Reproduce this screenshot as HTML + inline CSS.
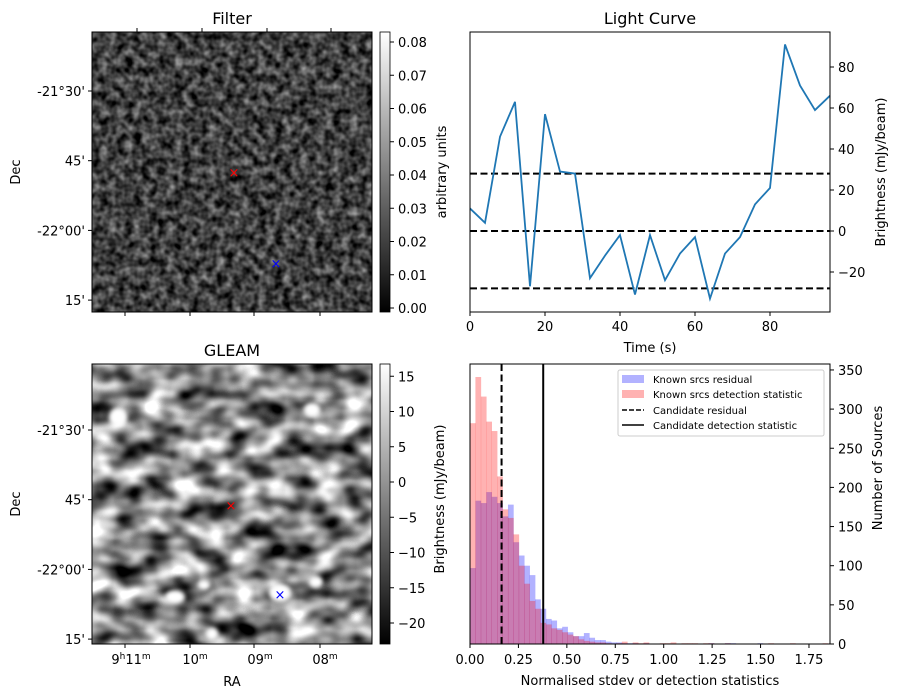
<!DOCTYPE html>
<html><head><meta charset="utf-8"><style>
body{margin:0;background:#fff;}
svg{display:block;font-family:"DejaVu Sans","Liberation Sans",sans-serif;}
</style></head><body>
<svg id="fig" width="898" height="699" viewBox="0 0 898 699" xmlns="http://www.w3.org/2000/svg">
<defs>
<filter id="fnoise" x="0" y="0" width="100%" height="100%" color-interpolation-filters="sRGB">
<feTurbulence type="fractalNoise" baseFrequency="0.12" numOctaves="2" seed="3"/>
<feColorMatrix type="matrix" values="0.9 0 0 0 -0.2  0.9 0 0 0 -0.2  0.9 0 0 0 -0.2  0 0 0 0 1"/>
</filter>
<filter id="gnoise" x="0" y="0" width="100%" height="100%" color-interpolation-filters="sRGB">
<feTurbulence type="fractalNoise" baseFrequency="0.035 0.05" numOctaves="2" seed="7"/>
<feColorMatrix type="matrix" values="1.9 0 0 0 -0.42  1.9 0 0 0 -0.42  1.9 0 0 0 -0.42  0 0 0 0 1"/>
</filter>
<filter id="blur"><feGaussianBlur stdDeviation="2"/></filter>
<linearGradient id="gray" x1="0" y1="1" x2="0" y2="0"><stop offset="0" stop-color="#000"/><stop offset="1" stop-color="#fff"/></linearGradient>
<clipPath id="gclip"><rect x="92" y="364" width="280" height="280"/></clipPath>
</defs>

<!-- Filter panel -->
<text x="232" y="24" font-size="16" text-anchor="middle">Filter</text>
<rect x="92" y="32" width="280" height="280" filter="url(#fnoise)"/>
<rect x="92" y="32" width="280" height="280" fill="none" stroke="#000" stroke-width="1"/>
<text x="234" y="177" font-size="13" fill="red" text-anchor="middle">×</text>
<text x="276" y="268" font-size="13" fill="blue" text-anchor="middle">×</text>
<rect x="380" y="32" width="10" height="280" fill="url(#gray)" stroke="#000" stroke-width="0.8"/>
<text transform="translate(446,172) rotate(-90)" font-size="13" text-anchor="middle">arbitrary units</text>
<text transform="translate(20,172) rotate(-90)" font-size="13" text-anchor="middle">Dec</text>

<!-- GLEAM panel -->
<text x="232" y="356" font-size="16" text-anchor="middle">GLEAM</text>
<g clip-path="url(#gclip)">
<rect x="92" y="364" width="280" height="280" filter="url(#gnoise)"/>
<g fill="#fff" filter="url(#blur)">
<ellipse cx="118" cy="417" rx="9" ry="9"/><ellipse cx="312" cy="410" rx="8" ry="7"/>
<ellipse cx="175" cy="597" rx="10" ry="7"/><ellipse cx="280" cy="593" rx="11" ry="9"/>
<ellipse cx="316" cy="582" rx="7" ry="6"/><ellipse cx="212" cy="634" rx="6" ry="6"/><ellipse cx="204" cy="585" rx="6" ry="5"/>
</g></g>
<rect x="92" y="364" width="280" height="280" fill="none" stroke="#000" stroke-width="1"/>
<text x="231" y="510" font-size="13" fill="red" text-anchor="middle">×</text>
<text x="280" y="599" font-size="13" fill="blue" text-anchor="middle">×</text>
<rect x="380" y="364" width="10" height="280" fill="url(#gray)" stroke="#000" stroke-width="0.8"/>
<text transform="translate(444,499) rotate(-90)" font-size="13" text-anchor="middle">Brightness (mJy/beam)</text>
<text transform="translate(20,504) rotate(-90)" font-size="13" text-anchor="middle">Dec</text>
<text x="232" y="686" font-size="13" text-anchor="middle">RA</text>
<g font-size="13" text-anchor="middle">
<line x1="125" y1="644" x2="125" y2="648" stroke="#000"/><line x1="190" y1="644" x2="190" y2="648" stroke="#000"/><line x1="254" y1="644" x2="254" y2="648" stroke="#000"/><line x1="320" y1="644" x2="320" y2="648" stroke="#000"/>
<text x="131" y="664">9<tspan font-size="9" dy="-5">h</tspan><tspan dy="5">11</tspan><tspan font-size="9" dy="-5">m</tspan></text>
<text x="195" y="664">10<tspan font-size="9" dy="-5">m</tspan></text>
<text x="260" y="664">09<tspan font-size="9" dy="-5">m</tspan></text>
<text x="325" y="664">08<tspan font-size="9" dy="-5">m</tspan></text>
</g>
<g stroke="#000">
<line x1="137" y1="32" x2="137" y2="28"/><line x1="202" y1="32" x2="202" y2="28"/><line x1="267" y1="32" x2="267" y2="28"/><line x1="331" y1="32" x2="331" y2="28"/>
<line x1="125" y1="312" x2="125" y2="316"/><line x1="190" y1="312" x2="190" y2="316"/><line x1="254" y1="312" x2="254" y2="316"/><line x1="320" y1="312" x2="320" y2="316"/>
</g>
<g id="decticks" font-size="13" text-anchor="end"></g>
<g id="cbticks" font-size="13"></g>

<!-- Light curve -->
<text x="650" y="24" font-size="16" text-anchor="middle">Light Curve</text>
<g id="lc"></g>
<rect x="470" y="32" width="360" height="280" fill="none" stroke="#000"/>
<text x="650" y="352" font-size="13" text-anchor="middle">Time (s)</text>
<text transform="translate(885,172) rotate(-90)" font-size="13" text-anchor="middle">Brightness (mJy/beam)</text>

<!-- Histogram -->
<g id="hist"></g>
<rect x="470" y="364" width="360" height="280" fill="none" stroke="#000"/>
<text x="650" y="685" font-size="13" text-anchor="middle">Normalised stdev or detection statistics</text>
<text transform="translate(882,468) rotate(-90)" font-size="13" text-anchor="middle">Number of Sources</text>
<g font-size="10">
<rect x="618" y="370" width="206" height="66" fill="#fff" fill-opacity="0.8" stroke="#ccc" rx="2"/>
<rect x="622" y="375" width="22" height="8" fill="rgba(0,0,255,0.3)"/><text x="653" y="383">Known srcs residual</text>
<rect x="622" y="390" width="22" height="8" fill="rgba(255,0,0,0.3)"/><text x="653" y="398">Known srcs detection statistic</text>
<line x1="622" y1="410" x2="644" y2="410" stroke="#000" stroke-width="1.5" stroke-dasharray="5,2"/><text x="653" y="414">Candidate residual</text>
<line x1="622" y1="425" x2="644" y2="425" stroke="#000" stroke-width="1.5"/><text x="653" y="429">Candidate detection statistic</text>
</g>
</svg>
<script>
const NS="http://www.w3.org/2000/svg";
function mk(p,t,a){const e=document.createElementNS(NS,t);for(const k in a)e.setAttribute(k,a[k]);p.appendChild(e);return e;}

// Light curve data
const lcTimes=[0,4,8,12,16,20,24,28,32,36,40,44,48,52,56,60,64,68,72,76,80,84,88,92,96];
const lcValues=[11,4,46,63,-27,57,29,28,-23,-12,-2,-31,-2,-24,-11,-3,-33,-11,-3,13,21,91,71,59,66];
const lcThresholds=[28,0,-28];
const lcXTicks=[0,20,40,60,80];
const lcYTicks=[-20,0,20,40,60,80];

// Histogram data
const binWidth=0.028;
const redCounts=[282,341,316,284,272,214,172,161,140,100,77,55,45,27,25,20,18,15,12,10,6,4,3,2,2,1,0,1,3,0,2,1,2,0,0,1,1,2,0,1,1,1,0,1,1,0,0,1,0,0,0,0,0,0,0,1,0,0,0,1,0,0,0,0,0,1];
const blueCounts=[97,183,180,194,188,180,163,178,130,113,100,88,57,45,32,30,20,22,15,10,10,14,8,5,5,3,2,2,1,1,1,0,1,0,0,0,0,0,0,0,0,0,0,0,1,0,0,1,1,0,0,0,0,1];
const candResidual=0.163;
const candDetection=0.378;
const histXTicks=[0,0.25,0.5,0.75,1.0,1.25,1.5,1.75];
const histXLabels=["0.00","0.25","0.50","0.75","1.00","1.25","1.50","1.75"];
const histYTicks=[0,50,100,150,200,250,300,350];

// Image axes ticks
const decLabels=["-21°30'","45'","-22°00'","15'"];
const decDegrees=[-21.5,-21.75,-22.0,-22.25];
const filterCbTicks=[0,0.01,0.02,0.03,0.04,0.05,0.06,0.07,0.08];
const gleamCbTicks=[-20,-15,-10,-5,0,5,10,15];

const xL=t=>470+t*3.75, yL=v=>231-v*2.05;
const xH=v=>470+v*193.7, yH=c=>644-c*0.783;
const yDecTop=d=>91+(-21.5-d)*4*69.7, yDecBot=d=>430+(-21.5-d)*4*69.7;
const yCbF=v=>308-v*3325, yCbG=v=>482-v*7.05;

const lc=document.getElementById('lc');
lcThresholds.forEach(v=>{const l=mk(lc,'line',{x1:470,x2:830,y1:yL(v),y2:yL(v),stroke:'#000','stroke-width':2,'stroke-dasharray':'7,3.5'});

});
const pl=mk(lc,'polyline',{points:lcTimes.map((t,i)=>xL(t)+','+yL(lcValues[i])).join(' '),fill:'none',stroke:'#1f77b4','stroke-width':1.8});


lcXTicks.forEach(t=>{mk(lc,'line',{x1:xL(t),x2:xL(t),y1:312,y2:316,stroke:'#000'});const e=mk(lc,'text',{x:xL(t),y:331,'font-size':13,'text-anchor':'middle'});e.textContent=t;

});
lcYTicks.forEach(v=>{mk(lc,'line',{x1:830,x2:834,y1:yL(v),y2:yL(v),stroke:'#000'});const e=mk(lc,'text',{x:838,y:yL(v)+5,'font-size':13});e.textContent=v<0?'−'+(-v):v;

});

const h=document.getElementById('hist');
blueCounts.forEach((c,i)=>{if(!c)return;const r=mk(h,'rect',{x:xH(i*binWidth),y:yH(c),width:binWidth*193.7+0.3,height:c*0.783,fill:'rgba(0,0,255,0.3)'});

});
redCounts.forEach((c,i)=>{if(!c)return;const r=mk(h,'rect',{x:xH(i*binWidth),y:yH(c),width:binWidth*193.7+0.3,height:c*0.783,fill:'rgba(255,0,0,0.3)'});

});
const l1=mk(h,'line',{x1:xH(candResidual),x2:xH(candResidual),y1:364,y2:644,stroke:'#000','stroke-width':2,'stroke-dasharray':'7,3.5'});


const l2=mk(h,'line',{x1:xH(candDetection),x2:xH(candDetection),y1:364,y2:644,stroke:'#000','stroke-width':2});


histXTicks.forEach((v,i)=>{mk(h,'line',{x1:xH(v),x2:xH(v),y1:644,y2:648,stroke:'#000'});const e=mk(h,'text',{x:xH(v),y:664,'font-size':13,'text-anchor':'middle'});e.textContent=histXLabels[i];

});
histYTicks.forEach(v=>{mk(h,'line',{x1:830,x2:834,y1:yH(v),y2:yH(v),stroke:'#000'});const e=mk(h,'text',{x:838,y:yH(v)+5,'font-size':13});e.textContent=v;

});

const dt=document.getElementById('decticks');
decDegrees.forEach((d,i)=>{[yDecTop(d),yDecBot(d)].forEach(y=>{mk(dt,'line',{x1:88,x2:92,y1:y,y2:y,stroke:'#000'});const e=mk(dt,'text',{x:85,y:y+5});e.textContent=decLabels[i];

});});

const cb=document.getElementById('cbticks');
filterCbTicks.forEach(v=>{const y=yCbF(v);mk(cb,'line',{x1:390,x2:394,y1:y,y2:y,stroke:'#000'});const e=mk(cb,'text',{x:398,y:y+5});e.textContent=v.toFixed(2);

});
gleamCbTicks.forEach(v=>{const y=yCbG(v);mk(cb,'line',{x1:390,x2:394,y1:y,y2:y,stroke:'#000'});const e=mk(cb,'text',{x:398,y:y+5});e.textContent=v<0?'−'+(-v):v;

});
</script>
</body></html>
